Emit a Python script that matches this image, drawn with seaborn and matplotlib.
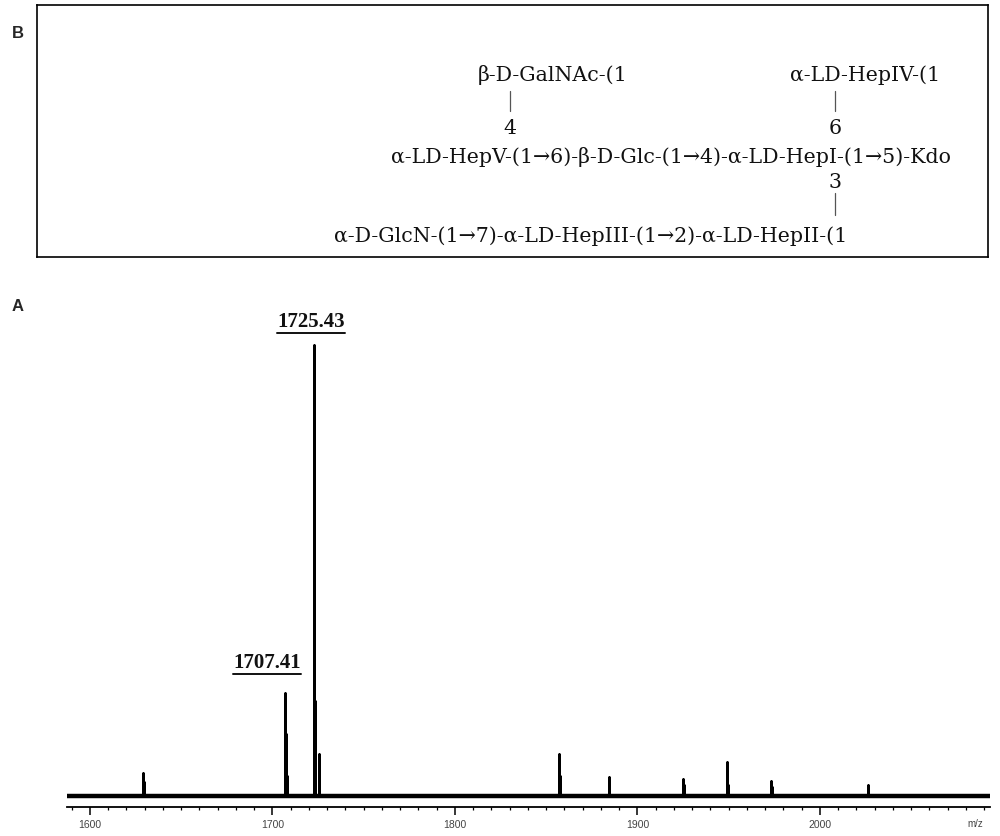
import matplotlib
matplotlib.use("Agg")
import matplotlib.pyplot as plt
from matplotlib.ticker import MultipleLocator
from matplotlib.lines import Line2D
from matplotlib.font_manager import FontProperties
import seaborn as sns
import pandas as pd

# ---------------- data ----------------
peak_mz = [1629.0, 1629.4,
           1706.9, 1707.4, 1707.9,
           1722.7, 1722.95, 1723.2, 1725.5,
           1857.0, 1857.4,
           1884.4,
           1924.9, 1925.3,
           1949.0, 1949.5,
           1973.2, 1973.6,
           2026.1, 2026.5]
peak_intensity = [5.1, 3.0,
                  22.9, 13.8, 4.5,
                  100.0, 53.9, 21.0, 9.4,
                  9.4, 4.5,
                  4.2,
                  3.8, 2.5,
                  7.6, 2.5,
                  3.3, 2.0,
                  2.4, 1.8]
label_texts = ["1725.43", "1707.41"]
label_mz = [1721.1, 1697.0]
label_y = [105.3, 29.7]
major_ticks = [1600, 1700, 1800, 1900, 2000]
x_range = [1587.4, 2093.2]

struct_lines = [
    ("β-D-GalNAc-(1", 553, 75, "center"),
    ("α-LD-HepIV-(1", 865, 75, "center"),
    ("4", 510, 128, "center"),
    ("6", 835, 128, "center"),
    ("α-LD-HepV-(1→6)-β-D-Glc-(1→4)-α-LD-HepI-(1→5)-Kdo", 671, 157, "center"),
    ("3", 835, 183, "center"),
    ("α-D-GlcN-(1→7)-α-LD-HepIII-(1→2)-α-LD-HepII-(1", 591, 236, "center"),
]

# ---------------- style ----------------
sns.set_style("white")
plt.rcParams['font.family'] = ['Liberation Sans', 'DejaVu Sans']

W, H = 1000, 837
fig = plt.figure(figsize=(W / 100, H / 100), dpi=100)


def fx(px):
    return px / W


def fy(py):
    return 1 - py / H


label_font = FontProperties(family="Liberation Serif", weight="bold", size=15)
struct_font = ['DejaVu Serif']

# ---------------- panel B: structure box ----------------
axb = fig.add_axes([fx(37), fy(258), (988 - 37) / W, (258 - 6) / H])
axb.set_xlim(37, 988)
axb.set_ylim(258, 6)
axb.set_xticks([])
axb.set_yticks([])
for s in axb.spines.values():
    s.set_visible(True)
    s.set_color("black")
    s.set_linewidth(1.2)
for txt, x, y, ha in struct_lines:
    axb.text(x, y, txt, ha=ha, va="center", fontsize=14.8, family=struct_font, color="#111111")
axb.plot([510, 510], [92, 112], color="#555555", lw=0.9)
axb.plot([835, 835], [92, 112], color="#555555", lw=0.9)
axb.plot([835, 835], [194, 216], color="#555555", lw=0.9)

fig.text(fx(12), fy(33), "B", fontsize=12, fontweight="bold", ha="left", va="center")
fig.text(fx(12), fy(307), "A", fontsize=12, fontweight="bold", ha="left", va="center")

# ---------------- panel A: spectrum ----------------
ax = fig.add_axes([fx(67), fy(808), (990 - 67) / W, (808 - 300) / H])

xs, ys = [x_range[0]], [0.0]
for m, h in sorted(zip(peak_mz, peak_intensity)):
    xs += [m, m, m]
    ys += [0.0, h, 0.0]
xs.append(x_range[1])
ys.append(0.0)
df = pd.DataFrame({"mz": xs, "intensity": ys})
sns.lineplot(data=df, x="mz", y="intensity", sort=False, estimator=None,
             color="black", lw=1.8, ax=ax)
ax.axhline(0, color="black", lw=3.2)

ax.set_xlim(*x_range)
ax.set_ylim(-2.44, 110.2)
ax.set_xlabel("")
ax.set_ylabel("")
ax.set_yticks([])
for side in ["top", "right", "left"]:
    ax.spines[side].set_visible(False)
ax.spines["bottom"].set_color("black")
ax.spines["bottom"].set_linewidth(1.3)
ax.set_xticks(major_ticks)
ax.xaxis.set_minor_locator(MultipleLocator(10))
ax.tick_params(axis="x", which="major", direction="out", length=5.5, width=1.1,
               color="black", labelsize=7.5, labelcolor="#444444", pad=3, bottom=True)
ax.tick_params(axis="x", which="minor", direction="out", length=2.5, width=0.9,
               color="black", bottom=True)
ax.text(0.993, -0.022, "m/z", transform=ax.transAxes, ha="right", va="top",
        fontsize=7, color="#444444")

label_objs = []
for t, xm, yv in zip(label_texts, label_mz, label_y):
    label_objs.append(ax.text(xm, yv, t, ha="center", va="center",
                              fontproperties=label_font, color="#111111"))

fig.canvas.draw()
r = fig.canvas.get_renderer()
for obj in label_objs:
    bb = obj.get_window_extent(renderer=r)
    yline = bb.y0 - 1.5
    fig.add_artist(Line2D([bb.x0 / W, bb.x1 / W], [yline / H, yline / H],
                          color="#111111", lw=1.4))

fig.savefig("out.png", dpi=100)
